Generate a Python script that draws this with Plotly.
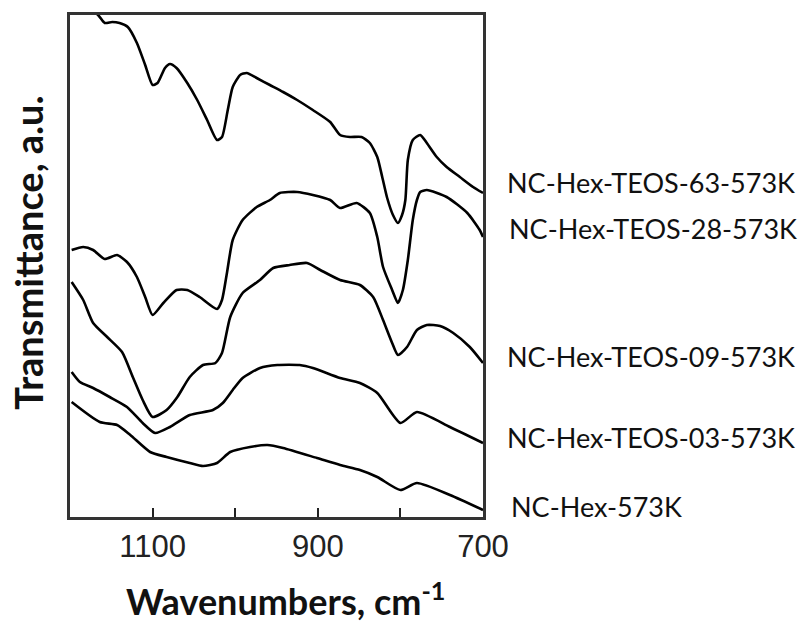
import plotly.graph_objects as go

# FTIR spectra, wavenumber (cm-1) vs. transmittance (arbitrary units, stacked)
wn_63 = [1188, 1166, 1158, 1149, 1140, 1130, 1119, 1109, 1100, 1094, 1085, 1079, 1071,
         1058, 1046, 1034, 1022, 1016, 1009, 1003, 994, 986, 974, 958, 942, 925, 906,
         885, 873, 861, 847, 837, 828, 822, 816, 809, 803, 798, 794, 791, 785, 776,
         768, 756, 744, 728, 712, 700]
tr_63 = [515, 502, 494, 495, 494, 490, 474, 452, 432, 434, 449, 453, 449,
         434, 417, 397, 377, 380, 407, 430, 442, 444, 439, 432, 425, 417, 407,
         395, 382, 380, 380, 374, 360, 340, 319, 302, 294, 302, 317, 357, 377, 382,
         374, 360, 350, 340, 330, 324]

wn_28 = [1198, 1184, 1172, 1158, 1143, 1131, 1119, 1109, 1100, 1087, 1071, 1058, 1043,
         1022, 1016, 1010, 1003, 991, 974, 958, 946, 925, 906, 885, 873, 853, 837,
         828, 821, 810, 803, 797, 791, 785, 780, 776, 768, 744, 719, 704, 700]
tr_28 = [267, 270, 267, 258, 262, 255, 240, 220, 202, 214, 227, 227, 220,
         208, 217, 244, 277, 297, 310, 317, 324, 325, 322, 317, 309, 314, 304,
         280, 250, 227, 214, 227, 257, 297, 317, 325, 327, 320, 304, 287, 280]

wn_09 = [1198, 1184, 1172, 1155, 1137, 1124, 1112, 1100, 1083, 1070, 1055, 1039, 1024,
         1016, 1006, 991, 970, 954, 934, 913, 897, 873, 849, 833, 821, 810, 803,
         792, 780, 768, 752, 736, 716, 700]
tr_09 = [235, 217, 194, 180, 165, 140, 117, 100, 107, 120, 140, 152, 154,
         164, 200, 224, 237, 249, 252, 254, 247, 237, 232, 220, 197, 174, 162,
         170, 187, 192, 191, 184, 170, 154]

wn_03 = [1198, 1188, 1172, 1152, 1131, 1112, 1097, 1079, 1055, 1027, 1015, 1003, 991,
         970, 949, 922, 906, 873, 849, 828, 800, 780, 740, 700]
tr_03 = [145, 135, 129, 120, 110, 94, 84, 90, 102, 107, 114, 127, 139,
         149, 152, 152, 149, 139, 134, 124, 94, 105, 90, 74]

wn_hex = [1198, 1164, 1143, 1127, 1103, 1083, 1055, 1039, 1022, 1006, 982, 961, 942,
          901, 873, 849, 828, 800, 780, 740, 700]
tr_hex = [115, 95, 92, 82, 65, 60, 54, 51, 54, 65, 70, 72, 69,
          59, 52, 47, 40, 27, 34, 22, 7]

series_names = ["NC-Hex-TEOS-63-573K", "NC-Hex-TEOS-28-573K", "NC-Hex-TEOS-09-573K",
                "NC-Hex-TEOS-03-573K", "NC-Hex-573K"]
series_x = [wn_63, wn_28, wn_09, wn_03, wn_hex]
series_y = [tr_63, tr_28, tr_09, tr_03, tr_hex]

# label positions (same units as transmittance) and left offsets
label_y = [335, 289, 161, 80, 11]
label_x = [1.053, 1.058, 1.053, 1.053, 1.063]

major_ticks = [1100, 900, 700]
minor_ticks = [1000, 800]

fig = go.Figure()
for name, xs, ys in zip(series_names, series_x, series_y):
    fig.add_trace(go.Scatter(
        x=xs, y=ys, mode="lines", name=name,
        line=dict(color="#000000", width=2.6, shape="spline", smoothing=0.6),
        hoverinfo="skip", showlegend=False))

for name, ly, lx in zip(series_names, label_y, label_x):
    fig.add_annotation(
        text=name, xref="paper", yref="y", x=lx, y=ly,
        xanchor="left", yanchor="middle", showarrow=False,
        font=dict(family="Lato, 'Open Sans', sans-serif", size=27, color="#111111"))

fig.add_annotation(
    text="Wavenumbers, cm<sup>-1</sup>", xref="paper", yref="paper",
    x=0.521, y=-0.163, xanchor="center", yanchor="middle", showarrow=False,
    font=dict(family="Lato, sans-serif", size=36, color="#111111", weight="bold"))

fig.add_annotation(
    text="Transmittance, a.u.", xref="paper", yref="paper",
    x=-0.102, y=0.526, xanchor="center", yanchor="middle", textangle=-90,
    showarrow=False,
    font=dict(family="Lato, sans-serif", size=38, color="#111111", weight="bold"))

fig.update_xaxes(
    range=[1200, 700], tickmode="array", tickvals=major_ticks,
    ticks="inside", ticklen=9, tickwidth=2, tickcolor="#222222",
    minor=dict(tickmode="array", tickvals=minor_ticks, ticks="inside",
               ticklen=9, tickwidth=2, tickcolor="#222222", showgrid=False),
    showline=True, linecolor="#333333", linewidth=2.5, mirror=True,
    showgrid=False, zeroline=False,
    tickfont=dict(family="Liberation Sans, Arial, sans-serif", size=31, color="#222222"))
fig.update_yaxes(
    range=[0, 502], showticklabels=False, ticks="",
    showline=True, linecolor="#333333", linewidth=2.5, mirror=True,
    showgrid=False, zeroline=False)

fig.update_layout(
    width=803, height=625,
    margin=dict(l=70, r=320, t=15, b=108),
    paper_bgcolor="white", plot_bgcolor="white")

fig.write_html("out.html")
